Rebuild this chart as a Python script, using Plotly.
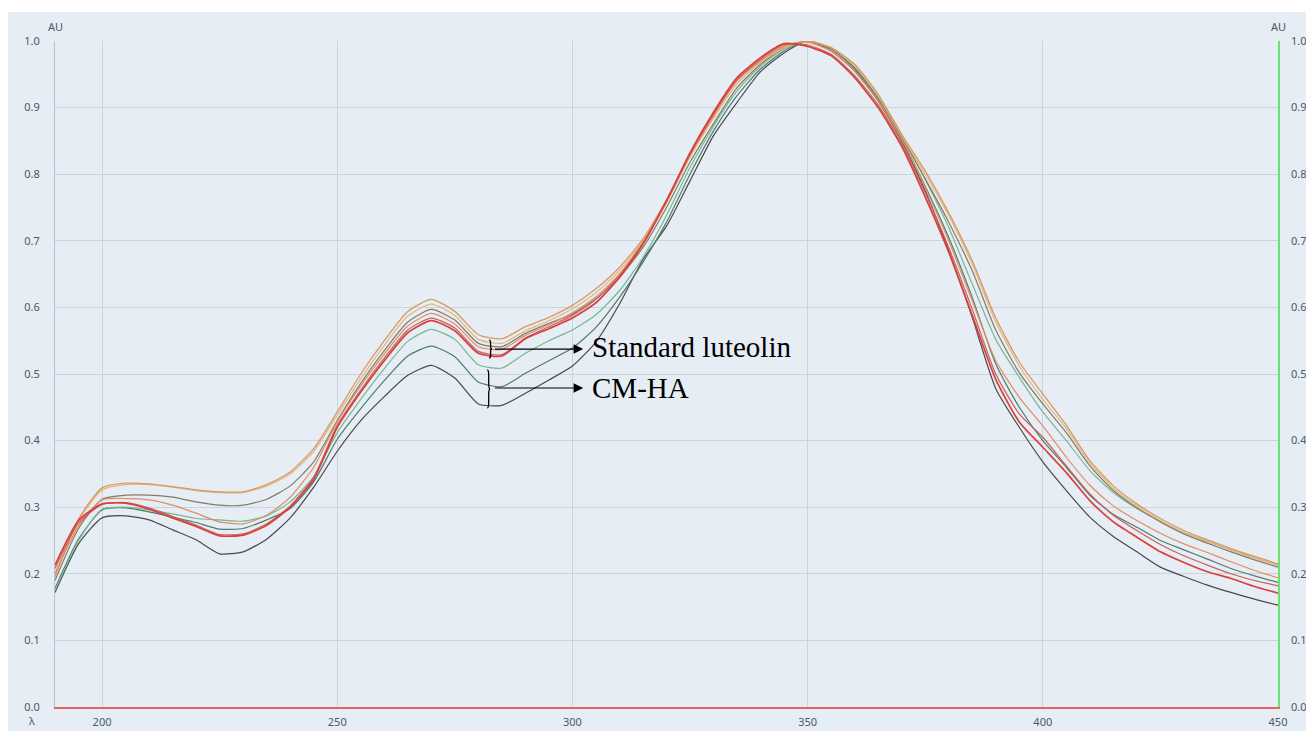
import plotly.graph_objects as go

# ---------------- data ----------------
wavelength = [190, 195, 200, 205, 210, 215, 220, 225, 230, 235, 240, 245, 250, 255, 260,
              265, 270, 275, 280, 285, 290, 295, 300, 305, 310, 315, 320, 325, 330, 335,
              340, 345, 350, 355, 360, 365, 370, 375, 380, 385, 390, 395, 400, 405, 410,
              415, 420, 425, 430, 435, 440, 445, 450]

tan1 = [0.195, 0.282, 0.329, 0.336, 0.335, 0.331, 0.326, 0.323, 0.323, 0.334, 0.353, 0.388, 0.443, 0.500, 0.550,
        0.594, 0.612, 0.594, 0.559, 0.553, 0.571, 0.585, 0.603, 0.628, 0.660, 0.703, 0.762, 0.831, 0.888, 0.942,
        0.971, 0.992, 1.000, 0.990, 0.965, 0.920, 0.860, 0.805, 0.742, 0.670, 0.584, 0.518, 0.470, 0.423, 0.370,
        0.332, 0.305, 0.283, 0.265, 0.251, 0.238, 0.226, 0.215]

tan2 = [0.200, 0.280, 0.326, 0.334, 0.334, 0.330, 0.325, 0.322, 0.322, 0.332, 0.350, 0.384, 0.438, 0.493, 0.543,
        0.587, 0.605, 0.588, 0.552, 0.546, 0.565, 0.580, 0.598, 0.622, 0.655, 0.700, 0.758, 0.826, 0.884, 0.936,
        0.968, 0.990, 1.000, 0.990, 0.963, 0.918, 0.858, 0.800, 0.738, 0.665, 0.578, 0.512, 0.462, 0.418, 0.366,
        0.328, 0.302, 0.280, 0.262, 0.249, 0.236, 0.224, 0.213]

olive = [0.190, 0.268, 0.312, 0.318, 0.318, 0.315, 0.308, 0.303, 0.303, 0.312, 0.332, 0.368, 0.430, 0.486, 0.535,
         0.578, 0.597, 0.581, 0.546, 0.541, 0.561, 0.576, 0.590, 0.613, 0.645, 0.690, 0.750, 0.818, 0.876, 0.930,
         0.965, 0.990, 1.000, 0.988, 0.960, 0.913, 0.855, 0.793, 0.728, 0.655, 0.566, 0.502, 0.455, 0.412, 0.362,
         0.325, 0.299, 0.278, 0.260, 0.246, 0.233, 0.221, 0.210]

orange = [0.200, 0.272, 0.311, 0.313, 0.311, 0.303, 0.291, 0.278, 0.275, 0.288, 0.315, 0.360, 0.428, 0.482, 0.530,
          0.572, 0.591, 0.575, 0.541, 0.537, 0.558, 0.574, 0.592, 0.616, 0.650, 0.697, 0.758, 0.828, 0.888, 0.940,
          0.970, 0.993, 0.998, 0.985, 0.955, 0.910, 0.852, 0.780, 0.700, 0.610, 0.520, 0.465, 0.422, 0.375, 0.333,
          0.302, 0.280, 0.261, 0.245, 0.232, 0.218, 0.205, 0.194]

red = [0.213, 0.280, 0.305, 0.306, 0.297, 0.284, 0.271, 0.257, 0.258, 0.273, 0.300, 0.342, 0.420, 0.473, 0.520,
       0.562, 0.580, 0.565, 0.531, 0.527, 0.553, 0.568, 0.584, 0.607, 0.645, 0.695, 0.760, 0.832, 0.893, 0.945,
       0.975, 0.996, 0.992, 0.978, 0.945, 0.900, 0.842, 0.766, 0.683, 0.588, 0.492, 0.428, 0.390, 0.352, 0.310,
       0.278, 0.255, 0.233, 0.217, 0.203, 0.193, 0.181, 0.171]

red2 = [0.208, 0.276, 0.304, 0.307, 0.299, 0.286, 0.273, 0.259, 0.260, 0.275, 0.302, 0.345, 0.423, 0.476, 0.524,
        0.566, 0.584, 0.569, 0.534, 0.529, 0.554, 0.571, 0.588, 0.612, 0.648, 0.697, 0.760, 0.830, 0.890, 0.942,
        0.973, 0.995, 0.994, 0.980, 0.948, 0.904, 0.846, 0.772, 0.690, 0.597, 0.500, 0.440, 0.405, 0.362, 0.320,
        0.288, 0.265, 0.244, 0.227, 0.213, 0.200, 0.190, 0.182]

green = [0.175, 0.250, 0.297, 0.300, 0.296, 0.290, 0.283, 0.281, 0.279, 0.287, 0.308, 0.346, 0.412, 0.462, 0.508,
         0.549, 0.567, 0.552, 0.514, 0.509, 0.531, 0.550, 0.566, 0.589, 0.625, 0.675, 0.738, 0.810, 0.872, 0.925,
         0.962, 0.988, 1.000, 0.988, 0.960, 0.915, 0.858, 0.792, 0.720, 0.635, 0.552, 0.495, 0.443, 0.400, 0.355,
         0.322, 0.298, 0.279, 0.262, 0.249, 0.236, 0.224, 0.213]

dkgreen = [0.178, 0.252, 0.296, 0.299, 0.293, 0.285, 0.277, 0.267, 0.268, 0.281, 0.298, 0.338, 0.402, 0.448, 0.490,
           0.527, 0.542, 0.526, 0.488, 0.481, 0.501, 0.520, 0.539, 0.570, 0.615, 0.668, 0.728, 0.800, 0.865, 0.918,
           0.958, 0.985, 1.000, 0.988, 0.958, 0.910, 0.852, 0.782, 0.705, 0.615, 0.515, 0.450, 0.400, 0.360, 0.318,
           0.289, 0.270, 0.250, 0.236, 0.222, 0.208, 0.197, 0.187]

dark = [0.172, 0.245, 0.284, 0.287, 0.281, 0.266, 0.251, 0.230, 0.233, 0.252, 0.284, 0.330, 0.384, 0.430, 0.466,
        0.498, 0.513, 0.494, 0.455, 0.453, 0.471, 0.491, 0.512, 0.548, 0.605, 0.672, 0.722, 0.790, 0.858, 0.908,
        0.954, 0.982, 1.000, 0.985, 0.955, 0.910, 0.850, 0.775, 0.685, 0.585, 0.478, 0.420, 0.368, 0.325, 0.285,
        0.256, 0.233, 0.210, 0.196, 0.183, 0.172, 0.162, 0.153]

y_ticks = [0.0, 0.1, 0.2, 0.3, 0.4, 0.5, 0.6, 0.7, 0.8, 0.9, 1.0]
x_ticks = [200, 250, 300, 350, 400, 450]
label_std = "Standard luteolin"
label_cm = "CM-HA"

# ---------------- styling ----------------
series = [
    (dark, "#4a4a4a", 1.2),
    (dkgreen, "#4f7c6b", 1.2),
    (green, "#79b694", 1.2),
    (olive, "#857b62", 1.2),
    (tan2, "#e2b583", 1.2),
    (tan1, "#d99a5c", 1.3),
    (orange, "#e08d63", 1.2),
    (red2, "#c8605a", 1.2),
    (red, "#d9403d", 1.7),
]

BG = "#e6edf4"
GRID = "#c9d4df"
TICK = "#4e5866"

fig = go.Figure()
for vals, color, w in series:
    fig.add_trace(go.Scatter(x=wavelength, y=vals, mode="lines",
                             line=dict(color=color, width=w, shape="spline", smoothing=0.6),
                             showlegend=False, hoverinfo="skip"))

# page body has an 8px margin: figure sized to fill the rest of the window
fig.update_layout(
    width=1306, height=723,
    margin=dict(l=47, r=36, t=33, b=24, autoexpand=False),
    paper_bgcolor=BG, plot_bgcolor=BG,
    font=dict(family="Noto Sans, Open Sans, sans-serif", size=11, color=TICK),
    xaxis=dict(range=[190, 450], tickvals=x_ticks, showgrid=True, gridcolor=GRID, gridwidth=1,
               showline=True, linecolor="#e26262", linewidth=1.5, zeroline=False, automargin=False,
               ticks="", ticklabelstandoff=4, tickfont=dict(size=11, color=TICK)),
    yaxis=dict(range=[0, 1], tickvals=y_ticks, tickformat=".1f", showgrid=True, gridcolor=GRID,
               gridwidth=1, showline=True, linecolor="#b7c3cf", linewidth=1, zeroline=False,
               automargin=False, ticks="", ticklabelstandoff=12, tickfont=dict(size=11, color=TICK)),
    yaxis2=dict(range=[0, 1], tickvals=y_ticks, tickformat=".1f", overlaying="y", side="right",
                showgrid=False, showline=True, linecolor="#6be36b", linewidth=1.5, zeroline=False,
                automargin=False, ticks="", ticklabelstandoff=9, tickfont=dict(size=11, color=TICK)),
)
# invisible trace to keep the right axis alive
fig.add_trace(go.Scatter(x=[wavelength[0]], y=[tan1[0]], yaxis="y2", mode="markers",
                         marker=dict(opacity=0), showlegend=False, hoverinfo="skip"))

# thin white band at the very top of the figure
fig.add_shape(type="rect", xref="paper", yref="paper", x0=-0.1, x1=1.1,
              y0=(707 - 12) / 666, y1=1.2, fillcolor="white", line_width=0, layer="below")


def brace(x, y_top, y_bot, w):
    ym = (y_top + y_bot) / 2
    q = (y_top - y_bot) * 0.15
    return (f"M {x},{y_top} Q {x + w},{y_top} {x + w},{y_top - q} "
            f"L {x + w},{ym + q} Q {x + w},{ym} {x + 2 * w},{ym} "
            f"Q {x + w},{ym} {x + w},{ym - q} L {x + w},{y_bot + q} "
            f"Q {x + w},{y_bot} {x},{y_bot}")


fig.add_shape(type="path", xref="x", yref="y", path=brace(282.3, 0.551, 0.524, 0.3),
              line=dict(color="black", width=1.3))
fig.add_shape(type="path", xref="x", yref="y", path=brace(281.9, 0.506, 0.449, 0.3),
              line=dict(color="black", width=1.3))

for y_arrow in (0.5375, 0.479):
    fig.add_annotation(x=302.3, y=y_arrow, ax=283.2, ay=y_arrow, axref="x", ayref="y",
                       xref="x", yref="y", text="", showarrow=True, arrowhead=2,
                       arrowsize=1.6, arrowwidth=1.2, arrowcolor="black")

fig.add_annotation(x=303.8, y=0.5405, xref="x", yref="y", text=label_std, showarrow=False,
                   xanchor="left", yanchor="middle",
                   font=dict(family="Liberation Serif, Times New Roman, serif", size=29, color="black"))
fig.add_annotation(x=303.8, y=0.479, xref="x", yref="y", text=label_cm, showarrow=False,
                   xanchor="left", yanchor="middle",
                   font=dict(family="Liberation Serif, Times New Roman, serif", size=29, color="black"))

# axis unit labels
fig.add_annotation(x=0.0, y=(707 - 27) / 666, xref="paper", yref="paper", text="AU",
                   showarrow=False, xanchor="center", yanchor="middle", font=dict(size=11, color=TICK))
fig.add_annotation(x=1.0, y=(707 - 27) / 666, xref="paper", yref="paper", text="AU",
                   showarrow=False, xanchor="center", yanchor="middle", font=dict(size=11, color=TICK))
fig.add_annotation(x=(32 - 55) / 1223, y=(707 - 720) / 666, xref="paper", yref="paper", text="λ",
                   showarrow=False, xanchor="center", yanchor="middle", font=dict(size=11, color=TICK))

fig.write_html("out.html")
